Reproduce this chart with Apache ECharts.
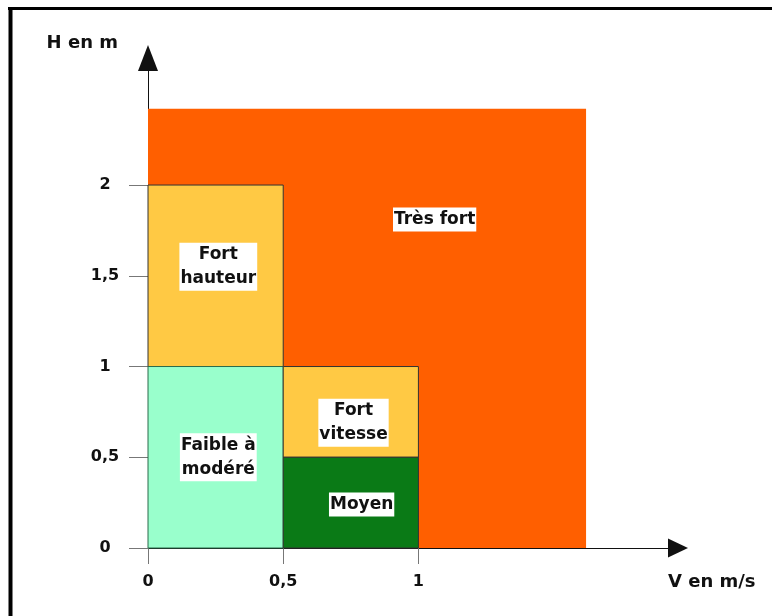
<!DOCTYPE html>
<html>
<head>
<meta charset="utf-8">
<script src="https://cdn.jsdelivr.net/npm/echarts@6/dist/echarts.min.js"></script>
<style>
  html, body { margin: 0; padding: 0; background: #fff; }
  #chart { width: 772px; height: 616px; }
</style>
</head>
<body>
<div id="chart"></div>
<script>
// zones of the diagram (V in m/s on x, H in m on y)
const zoneLabels = ['Très fort', 'Fort\nhauteur', 'Faible à\nmodéré', 'Fort\nvitesse', 'Moyen'];
const vFrom = [0, 0, 0, 0.5, 0.5];
const vTo = [1.62, 0.5, 0.5, 1, 1];
const hFrom = [0, 1, 0, 0.5, 0];
const hTo = [2.42, 2, 1, 1, 0.5];
// where each zone's caption sits
const labelV = [1.06, 0.26, 0.26, 0.76, 0.79];
const labelH = [1.81, 1.55, 0.5, 0.69, 0.24];

const vTicks = [0, 0.5, 1];
const hTicks = [0, 0.5, 1, 1.5, 2];

const zoneColors = ['#ff5f00', '#ffc944', '#99ffcc', '#ffc944', '#0a7a16'];
const zoneStroke = [null, '#333', '#2b6b4a', '#333', '#333'];

const fontFamily = '"DejaVu Sans", Arial, sans-serif';

const chart = echarts.init(document.getElementById('chart'));

const data = zoneLabels.map((_, i) => [vFrom[i], vTo[i], hFrom[i], hTo[i], labelV[i], labelH[i], i]);

function renderItem(params, api) {
  const i = api.value(6);
  const p0 = api.coord([api.value(0), api.value(3)]);
  const p1 = api.coord([api.value(1), api.value(2)]);
  const lp = api.coord([api.value(4), api.value(5)]);
  return {
    type: 'group',
    children: [
      {
        type: 'rect',
        shape: { x: p0[0], y: p0[1], width: p1[0] - p0[0], height: p1[1] - p0[1] },
        style: { fill: zoneColors[i], stroke: zoneStroke[i], lineWidth: zoneStroke[i] ? 1 : 0 }
      },
      {
        type: 'text',
        x: lp[0],
        y: lp[1],
        style: {
          text: zoneLabels[i],
          fill: '#111',
          font: 'bold 17px ' + fontFamily,
          align: 'center',
          verticalAlign: 'middle',
          backgroundColor: '#fff',
          padding: [0, 1],
          lineHeight: 24
        }
      }
    ]
  };
}

const fmt = v => String(v).replace('.', ',');

chart.setOption({
  animation: false,
  backgroundColor: '#fff',
  grid: { left: 148, right: 94, top: 58, bottom: 68 },
  xAxis: {
    type: 'value',
    min: 0,
    max: 1.96,
    name: 'V en m/s',
    nameLocation: 'end',
    nameGap: -10,
    nameTextStyle: {
      color: '#111', fontWeight: 'bold', fontSize: 18, fontFamily: fontFamily,
      align: 'left', verticalAlign: 'top', padding: [25, 0, 0, 0]
    },
    splitLine: { show: false },
    axisLine: {
      lineStyle: { color: '#111', width: 1 },
      symbol: ['none', 'triangle'],
      symbolSize: [19, 20]
    },
    axisTick: { customValues: vTicks, length: 16, lineStyle: { color: '#777' } },
    axisLabel: {
      customValues: vTicks,
      formatter: fmt,
      margin: 26,
      color: '#111', fontWeight: 'bold', fontSize: 16, fontFamily: fontFamily
    }
  },
  yAxis: {
    type: 'value',
    min: 0,
    max: 2.7,
    name: 'H en m',
    nameLocation: 'end',
    nameGap: 0,
    nameTextStyle: {
      color: '#111', fontWeight: 'bold', fontSize: 18, fontFamily: fontFamily,
      align: 'right', verticalAlign: 'bottom', padding: [0, 30, 6, 0]
    },
    splitLine: { show: false },
    axisLine: {
      lineStyle: { color: '#111', width: 1 },
      symbol: ['none', 'triangle'],
      symbolSize: [20, 26]
    },
    axisTick: { customValues: hTicks, length: 19, lineStyle: { color: '#777' } },
    axisLabel: {
      customValues: hTicks,
      formatter: fmt,
      margin: 43,
      align: 'center',
      color: '#111', fontWeight: 'bold', fontSize: 16, fontFamily: fontFamily
    }
  },
  series: [{
    type: 'custom',
    renderItem: renderItem,
    encode: { x: [0, 1], y: [2, 3] },
    data: data,
    z: 1
  }],
  graphic: [
    { type: 'line', shape: { x1: 10.5, y1: 7, x2: 10.5, y2: 616 }, style: { stroke: '#000', lineWidth: 4 } },
    { type: 'line', shape: { x1: 8, y1: 8.5, x2: 772, y2: 8.5 }, style: { stroke: '#000', lineWidth: 3 } }
  ]
});
</script>
</body>
</html>
